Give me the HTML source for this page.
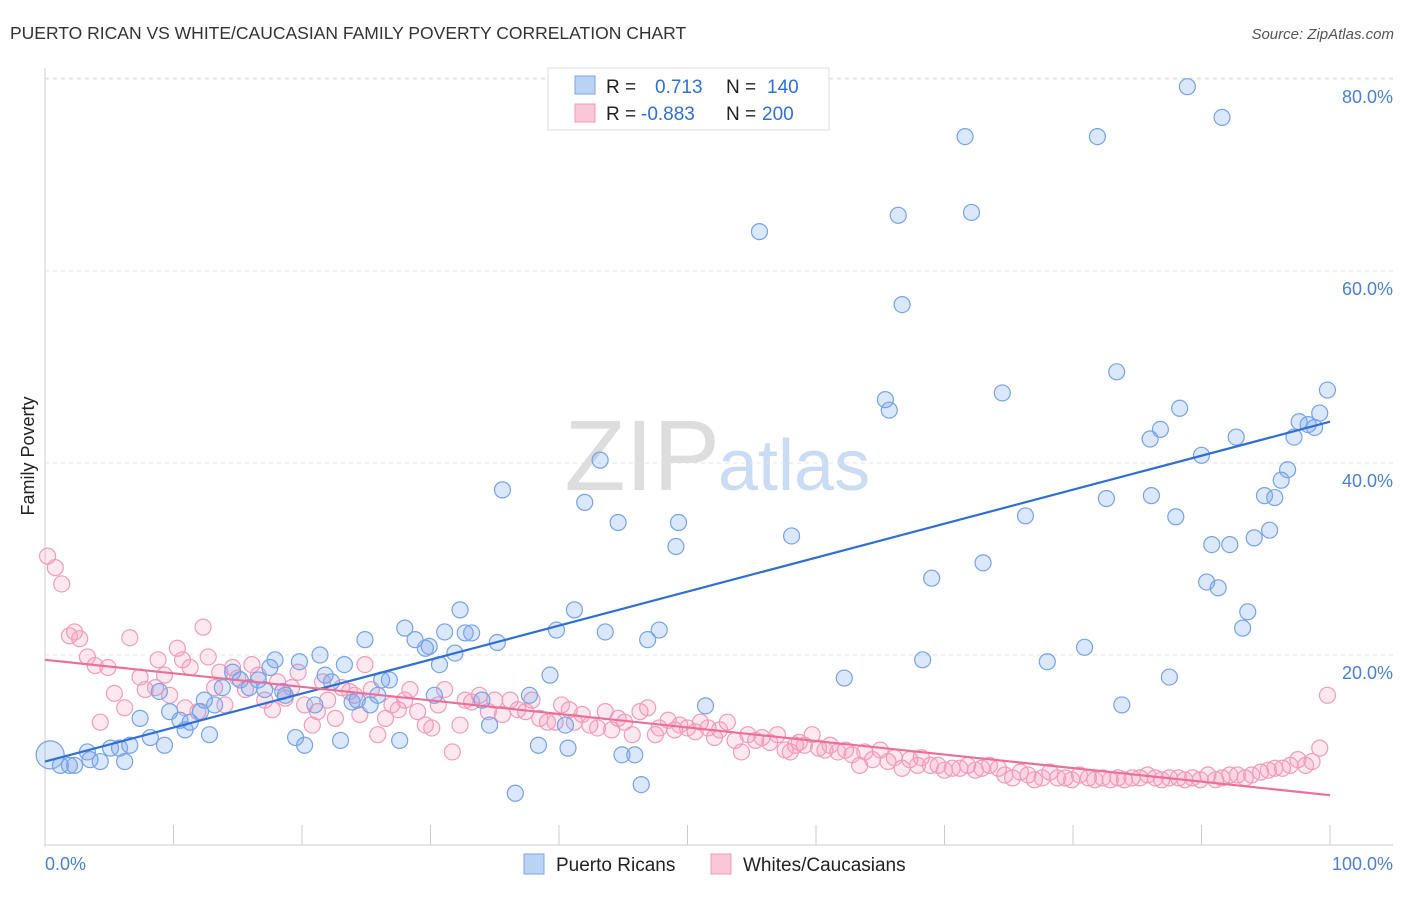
<!DOCTYPE html>
<html><head><meta charset="utf-8"><style>
body{margin:0;background:#fff;font-family:"Liberation Sans",sans-serif}
svg text{font-family:"Liberation Sans",sans-serif}
</style></head><body>
<svg id="chart" width="1406" height="892">
<text x="10" y="39" font-size="17.5" fill="#333">PUERTO RICAN VS WHITE/CAUCASIAN FAMILY POVERTY CORRELATION CHART</text>
<text x="1394" y="39" font-size="15" fill="#555" font-style="italic" text-anchor="end">Source: ZipAtlas.com</text>
<text x="720" y="490" font-size="100" fill="#ddd" text-anchor="end" font-family="Liberation Serif">ZIP</text>
<text x="718" y="490" font-size="72" fill="#c9dcf3">atlas</text>
<text transform="translate(34,456) rotate(-90)" font-size="18" fill="#222" text-anchor="middle">Family Poverty</text>
<g id="grid"></g><g id="marks"></g><g id="trends"></g>
<g>
<rect x="548" y="68" width="281" height="62" fill="#fff" stroke="#ddd"/>
<rect x="575" y="76" width="20" height="18" fill="#b9d3f5" stroke="#7aa6e6"/>
<rect x="575" y="104" width="20" height="18" fill="#fbc7d8" stroke="#f09ab8"/>
<text x="606" y="93" font-size="19" fill="#222">R = <tspan fill="#2f6fd6" x="655">0.713</tspan><tspan x="726" fill="#222">N = </tspan><tspan fill="#2f6fd6" x="767">140</tspan></text>
<text x="606" y="120" font-size="19" fill="#222">R = <tspan fill="#2f6fd6" x="641">-0.883</tspan><tspan x="726" fill="#222">N = </tspan><tspan fill="#2f6fd6" x="762">200</tspan></text>
</g>
<g>
<rect x="524" y="854" width="20" height="20" fill="#b9d3f5" stroke="#7aa6e6"/>
<text x="556" y="871" font-size="19" fill="#222">Puerto Ricans</text>
<rect x="711" y="854" width="20" height="20" fill="#fbc7d8" stroke="#f09ab8"/>
<text x="743" y="871" font-size="19" fill="#222">Whites/Caucasians</text>
</g>
</svg>
<script>
const xTicks=[0,10,20,30,40,50,60,70,80,90,100];
const yTicks=[20,40,60,80];
const blueX=[0.4,1.2,1.9,2.3,3.5,4.3,3.3,5.1,5.8,6.6,6.2,7.4,8.2,8.9,9.3,9.7,10.5,10.9,11.3,12.1,12.4,12.8,13.2,13.8,14.6,15.2,15.9,16.6,17.1,17.5,17.9,18.5,18.7,19.5,19.8,20.2,21.0,21.4,21.8,22.3,23.0,23.3,23.9,24.3,24.9,25.3,25.9,26.2,26.8,27.6,28.0,28.8,29.6,29.9,30.3,30.7,31.1,31.9,32.3,32.7,33.2,34.0,34.6,35.2,35.6,36.6,37.7,38.4,39.3,39.8,40.5,40.7,41.2,42.0,43.2,43.6,44.6,44.9,45.9,46.4,46.9,47.8,49.1,49.3,51.4,55.6,58.1,62.2,65.4,65.7,66.4,66.7,68.3,69.0,71.6,72.1,73.0,74.5,76.3,78.0,80.9,81.9,82.6,83.4,83.8,86.0,86.1,86.8,87.5,88.0,88.3,88.9,90.0,90.4,90.8,91.3,91.6,92.2,92.7,93.2,93.6,94.1,94.9,95.7,95.3,96.2,96.7,97.2,97.6,98.3,98.8,99.2,99.8];
const blueY=[9.6,8.5,8.5,8.5,9.1,8.9,9.9,10.3,10.3,10.6,8.9,13.4,11.4,16.2,10.6,14.1,13.2,12.2,13.0,14.1,15.3,11.7,14.8,16.6,18.2,17.4,16.6,17.4,16.4,18.7,19.5,16.2,15.8,11.4,19.3,10.6,14.8,20.0,17.9,17.2,11.1,19.0,15.1,15.3,21.6,14.8,15.8,17.4,17.4,11.1,22.8,21.6,20.7,20.9,15.8,19.0,22.4,20.2,24.7,22.3,22.3,15.3,12.7,21.3,37.2,5.6,15.8,10.6,17.9,22.6,12.7,10.3,24.7,35.9,40.3,22.4,33.8,9.6,9.6,6.5,21.6,22.6,31.3,33.8,14.7,64.1,32.4,17.6,46.6,45.5,65.8,56.5,19.5,28.0,74.0,66.1,29.6,47.3,34.5,19.3,20.8,74.0,36.3,49.5,14.8,42.5,36.6,43.5,17.7,34.4,45.7,79.2,40.8,27.6,31.5,27.0,76.0,31.5,42.7,22.8,24.5,32.2,36.6,36.4,33.0,38.2,39.3,42.7,44.3,44.0,43.7,45.2,47.6];
const pinkX=[0.2,0.8,1.3,1.9,2.3,2.7,3.3,3.9,4.3,4.9,5.4,6.2,6.6,7.4,7.8,8.6,8.8,9.3,9.7,10.3,10.7,10.9,11.3,11.9,12.3,12.7,13.2,13.6,14.0,14.6,15.0,15.6,16.1,16.6,17.1,17.7,18.1,18.7,19.2,19.7,20.2,20.8,21.2,21.6,22.0,22.6,23.1,23.7,24.1,24.5,24.9,25.4,25.9,26.5,27.0,27.5,28.0,28.4,29.0,29.6,30.1,30.6,31.1,31.7,32.3,32.7,33.2,33.8,34.5,35.0,35.6,36.2,36.8,37.4,37.9,38.5,39.1,39.7,40.2,40.8,41.2,41.8,42.4,43.0,43.6,44.1,44.6,45.1,45.7,46.3,46.9,47.5,47.8,48.5,49.0,49.4,50.0,50.6,51.0,51.6,52.1,52.5,53.1,53.7,54.2,54.7,55.3,55.8,56.4,57.0,57.6,58.0,58.4,58.7,59.1,59.7,60.2,60.7,61.1,61.7,62.3,62.8,63.4,63.8,64.4,65.0,65.6,66.1,66.7,67.3,67.9,68.2,68.9,69.5,70.0,70.6,71.2,71.8,72.4,72.9,73.5,74.2,74.7,75.3,75.9,76.5,77.0,77.6,78.2,78.8,79.4,79.9,80.5,81.2,81.7,82.3,82.9,83.5,84.0,84.6,85.2,85.8,86.4,86.9,87.5,88.2,88.7,89.3,89.9,90.5,91.1,91.6,92.2,92.8,93.4,93.9,94.6,95.2,95.7,96.3,96.9,97.5,98.1,98.6,99.2,99.8];
const pinkY=[30.3,29.1,27.4,22.0,22.4,21.7,19.8,18.9,13.0,18.7,16.0,14.5,21.8,17.7,16.4,16.6,19.5,17.9,15.8,20.7,19.5,14.5,18.7,14.1,22.9,19.8,16.6,18.2,14.8,18.7,17.6,16.4,19.0,17.9,15.3,14.3,17.2,15.5,16.6,18.2,14.8,12.7,14.1,17.2,15.3,13.4,16.6,16.2,15.8,13.8,19.0,16.4,11.7,13.4,14.8,14.3,15.3,16.4,14.1,12.7,12.4,14.8,16.4,9.9,12.7,15.3,15.1,15.8,14.1,15.3,13.8,15.3,14.3,14.1,15.3,13.4,13.0,13.0,14.8,14.3,13.0,13.8,12.7,12.4,14.1,12.2,13.4,13.0,11.7,14.1,14.5,11.7,12.4,13.2,12.2,12.7,12.4,12.0,13.0,12.4,11.4,12.2,13.0,11.1,9.9,11.7,11.1,11.4,10.9,11.7,10.1,9.9,10.6,10.9,10.6,11.7,10.3,10.1,10.6,9.9,10.1,9.6,8.5,9.9,9.1,10.1,8.9,9.3,8.2,9.1,8.5,9.3,8.5,8.5,8.0,8.2,8.2,8.5,8.0,8.2,8.5,8.2,7.5,7.2,7.8,7.5,7.0,7.2,7.8,7.2,7.2,7.0,7.5,7.2,7.0,7.2,7.0,7.2,7.0,7.2,7.2,7.5,7.2,7.0,7.2,7.2,7.0,7.2,7.0,7.5,7.0,7.2,7.5,7.5,7.2,7.5,7.8,8.0,8.2,8.2,8.5,9.1,8.5,8.9,10.3,15.8];
const blueTrend=[8.9,44.3];
const pinkTrend=[19.5,5.4];
const X0=45,X1=1330,Y0=847,PPY=9.6;
const sx=v=>X0+(X1-X0)*v/100, sy=v=>Y0-v*PPY;
const NS='http://www.w3.org/2000/svg';
function mk(t,a,p){const e=document.createElementNS(NS,t);for(const k in a)e.setAttribute(k,a[k]);p.appendChild(e);return e;}
const grid=document.getElementById('grid');
mk('line',{x1:45,y1:68,x2:45,y2:847,stroke:'#ccc'},grid);
mk('line',{x1:45,y1:845,x2:1393,y2:845,stroke:'#ccc'},grid);
mk('line',{x1:45,y1:78,x2:1393,y2:78,stroke:'#e3e3e3','stroke-dasharray':'4,4'},grid);
yTicks.forEach(t=>{
 const l=mk('line',{x1:45,y1:sy(t),x2:1393,y2:sy(t),stroke:'#e3e3e3','stroke-dasharray':'4,4'},grid);
 
 
 const tx=mk('text',{x:1393,y:sy(t)+24,'font-size':18,fill:'#4a7fd4','text-anchor':'end'},grid);
 tx.textContent=t.toFixed(1)+'%';
 
 
});
xTicks.forEach(t=>{
 const l=mk('line',{x1:sx(t),y1:825,x2:sx(t),y2:845,stroke:'#ccc'},grid);
 
 
});
[[0,'start'],[100,'end']].forEach(([t,a])=>{
 const tx=mk('text',{x:t===0?45:1393,y:870,'font-size':18,fill:'#4a7fd4','text-anchor':a},grid);
 tx.textContent=t.toFixed(1)+'%';
 
 
});
const marks=document.getElementById('marks');
pinkX.forEach((x,i)=>{
 const c=mk('circle',{cx:sx(x),cy:sy(pinkY[i]),r:8,fill:'rgba(245,150,180,0.22)',stroke:'#f29bbb','stroke-width':1.2},marks);
 
 
});
blueX.forEach((x,i)=>{
 const c=mk('circle',{cx:sx(x),cy:sy(blueY[i]),r:i===0?14:8,fill:'rgba(110,160,235,0.25)',stroke:'#76a3e6','stroke-width':1.2},marks);
 
 
});
const tr=document.getElementById('trends');
const bl=mk('line',{x1:sx(0),y1:sy(blueTrend[0]),x2:sx(100),y2:sy(blueTrend[1]),stroke:'#2f6fd6','stroke-width':2.2},tr);


const pl=mk('line',{x1:sx(0),y1:sy(pinkTrend[0]),x2:sx(100),y2:sy(pinkTrend[1]),stroke:'#ec6f98','stroke-width':2.2},tr);


</script>
</body></html>
